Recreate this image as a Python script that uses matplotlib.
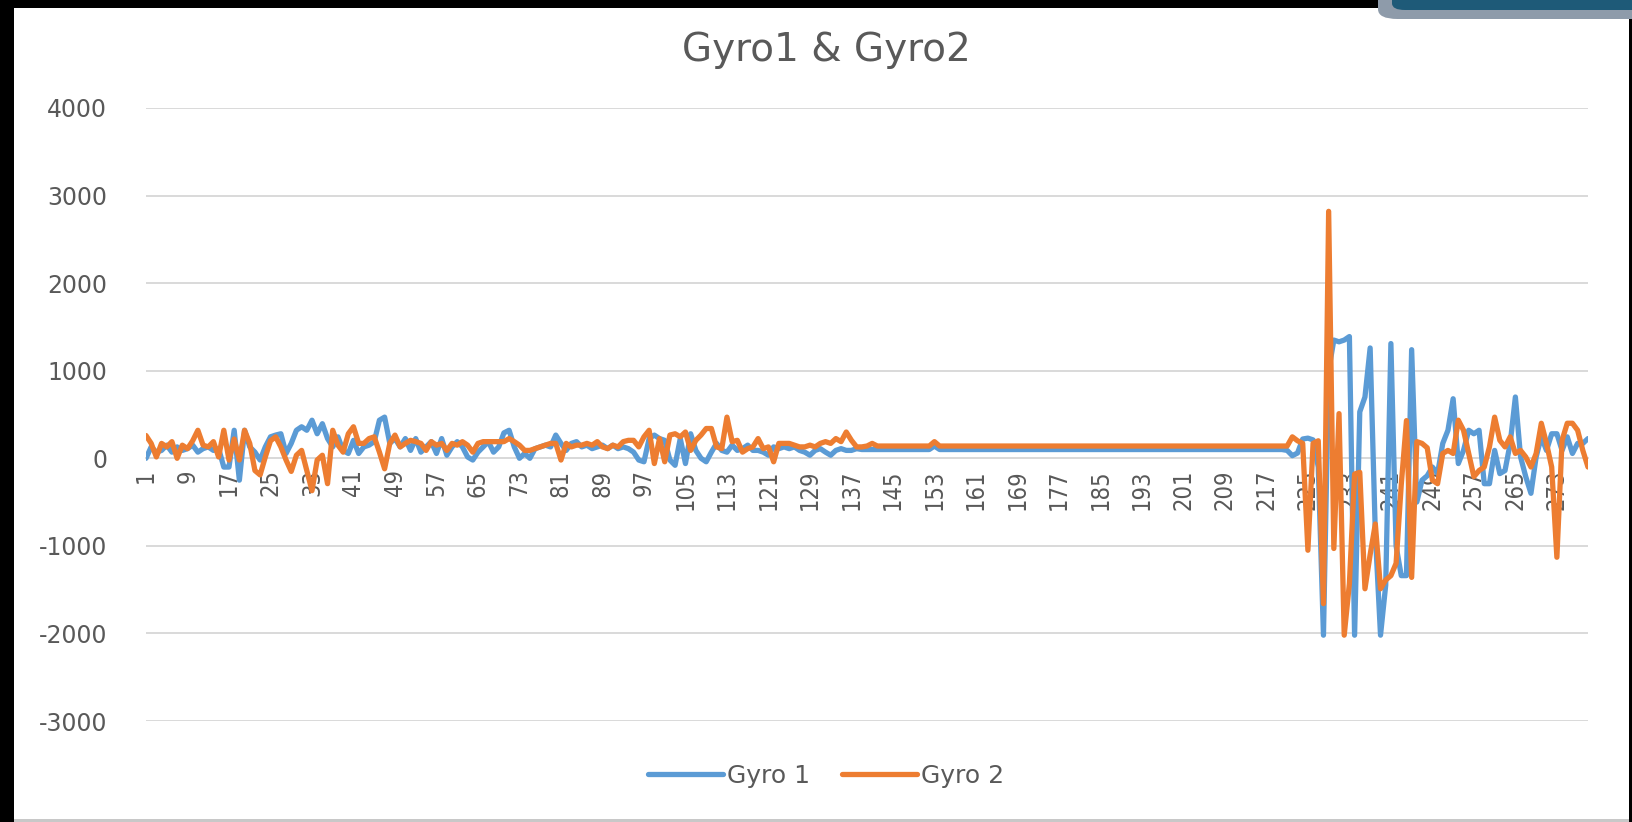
import matplotlib
matplotlib.use("Agg")
import matplotlib.pyplot as plt
from matplotlib.patches import Rectangle, FancyBboxPatch
import numpy as np

# Data (279 samples each)
gyro2 = ([260, 170, 15, 170, 130, 190, 0, 150, 110, 200,
          320, 150, 130, 190, 15, 320, -20, 220, -20, 320,
          170, -140, -190, 15, 200, 245, 130, -20, -150, 35,
          90, -140, -370, -20, 35, -290, 320, 150, 70, 280,
          360, 170, 170, 225, 245, 70, -120, 170, 265, 130,
          170, 205, 190, 170, 90, 190, 150, 170, 90, 170,
          150, 190, 150, 70, 170, 190, 190, 190, 190, 190,
          225, 190, 150, 90, 90, 110, 130, 150, 170, 170,
          -20, 170, 130, 150, 150, 170, 150, 190, 130, 110,
          150, 130, 190, 205, 205, 130, 245, 320, -60, 225,
          -40, 265, 280, 245, 300, 90, 205, 265, 340, 340,
          130, 110, 470, 190, 205, 70, 110, 130, 225, 110,
          130, -40, 170, 170, 170, 150, 130, 130, 150, 130,
          170, 190, 170, 225, 190, 300, 205, 130, 130, 140,
          170, 140, 140, 140, 140, 140, 140, 140, 140, 140,
          140, 140, 190]
         + [140] * 66
         + [140, 140, 245, 200, 170, -1050, 170, 200, -1660, 2820,
            -1030, 510, -2020, -1430, -180, -160, -1490, -1100, -750, -1490,
            -1390, -1340, -1200, -300, 430, -1360, 190, 170, 120, -250,
            -290, 55, 90, 55, 435, 320, 55, -210, -140, -100,
            130, 470, 205, 130, 245, 55, 90, 15, -100, 55,
            400, 170, -100, -1130, 205, 400, 400, 320, 90, -100])

gyro1 = ([0, 130, 70, 90, 150, 70, 130, 90, 110, 150,
          70, 110, 130, 90, 110, -100, -100, 320, -250, 320,
          130, 70, -20, 130, 245, 265, 280, 55, 170, 320,
          360, 320, 435, 280, 395, 225, 130, 245, 90, 55,
          205, 55, 130, 150, 190, 435, 470, 170, 225, 130,
          225, 90, 225, 70, 130, 190, 55, 225, 35, 130,
          190, 130, 15, -20, 70, 130, 190, 70, 130, 290,
          320, 130, 0, 55, 0, 110, 130, 150, 130, 265,
          170, 90, 170, 190, 130, 150, 110, 130, 150, 110,
          150, 110, 130, 110, 70, -20, -40, 225, 265, 225,
          205, -20, -80, 225, -60, 280, 90, 0, -40, 70,
          170, 90, 70, 150, 90, 110, 150, 90, 90, 70,
          35, 130, 110, 130, 110, 130, 90, 70, 35, 90,
          110, 70, 35, 90, 110, 90, 90, 110, 100, 100]
         + [100] * 12 + [140] + [100] * 66
         + [100, 90, 30, 60, 220, 230, 210, -100, -2020, 1000,
            1350, 1330, 1350, 1390, -2020, 530, 700, 1260, -860, -2020,
            -1450, 1310, -1000, -1340, -1340, 1240, -500, -250, -200, -100,
            -175, 170, 320, 680, -60, 90, 320, 280, 320, -290,
            -290, 90, -175, -140, 170, 700, 15, -210, -400, 15,
            245, 90, 280, 280, 90, 245, 55, 170, 170, 225])

n = len(gyro1)
idx = np.arange(1, n + 1)
xtick_pos = list(range(1, n + 1, 8))
ytick_pos = [-3000, -2000, -1000, 0, 1000, 2000, 3000, 4000]

BLUE = "#5B9BD5"
ORANGE = "#ED7D31"
GRAY_TXT = "#595959"
GRID = "#D9D9D9"

fig = plt.figure(figsize=(16.33, 8.22), dpi=100, facecolor="black")

# white chart area inside the black screenshot frame
W, H = 1633, 822
fig.patches.append(Rectangle((14 / W, 1 - 819 / H), (1629 - 14) / W, (819 - 8) / H,
                             transform=fig.transFigure, facecolor="white",
                             edgecolor="none", zorder=0))
fig.patches.append(Rectangle((14 / W, 0), (1629 - 14) / W, 3 / H,
                             transform=fig.transFigure, facecolor="#C8C8C8",
                             edgecolor="none", zorder=0))
# UI widget clipped at top right
fig.patches.append(FancyBboxPatch((1378 / W, 1 - 19 / H), 300 / W, 40 / H,
                                  boxstyle="round,pad=0,rounding_size=0.012",
                                  transform=fig.transFigure, facecolor="#8E9BAA",
                                  edgecolor="none", zorder=1))
fig.patches.append(FancyBboxPatch((1392 / W, 1 - 10 / H), 260 / W, 30 / H,
                                  boxstyle="round,pad=0,rounding_size=0.008",
                                  transform=fig.transFigure, facecolor="#1E5A78",
                                  edgecolor="none", zorder=1))

ax = fig.add_axes([146 / W, 1 - 721 / H, (1588 - 146) / W, (721 - 108) / H])
ax.set_zorder(5)
ax.set_facecolor("none")

ax.plot(idx, gyro1, color=BLUE, lw=3.8, label="Gyro 1", zorder=3,
        solid_joinstyle="round", solid_capstyle="round")
ax.plot(idx, gyro2, color=ORANGE, lw=3.8, label="Gyro 2", zorder=3,
        solid_joinstyle="round", solid_capstyle="round")

ax.set_xlim(1, n)
ax.set_ylim(-3000, 4000)
ax.set_yticks(ytick_pos)
ax.set_yticklabels([str(v) for v in ytick_pos])
ax.yaxis.grid(True, color=GRID, lw=1.4)
ax.set_axisbelow(True)

for s in ["top", "right", "left"]:
    ax.spines[s].set_visible(False)
ax.spines["bottom"].set_position(("data", 0))
ax.spines["bottom"].set_color(GRID)
ax.spines["bottom"].set_linewidth(1.4)

ax.set_xticks(xtick_pos)
ax.set_xticklabels([str(v) for v in xtick_pos], rotation=90,
                   family=["Liberation Sans Narrow", "DejaVu Sans"],
                   fontstretch="condensed", fontsize=17)
ax.tick_params(axis="x", length=0, pad=8, colors=GRAY_TXT)
ax.tick_params(axis="y", length=0, pad=28, colors=GRAY_TXT, labelsize=17)

fig.text(0.506, 1 - 50 / H, "Gyro1 & Gyro2", ha="center", va="center",
         fontsize=28, color=GRAY_TXT, zorder=6)

leg = fig.legend(loc="center", bbox_to_anchor=(0.506, 1 - 776 / H), ncol=2,
                 frameon=False, fontsize=18, handlelength=3.0, handletextpad=0.15,
                 columnspacing=1.3, labelcolor=GRAY_TXT)
leg.set_zorder(6)

fig.savefig("out.png", dpi=100, facecolor=fig.get_facecolor())
